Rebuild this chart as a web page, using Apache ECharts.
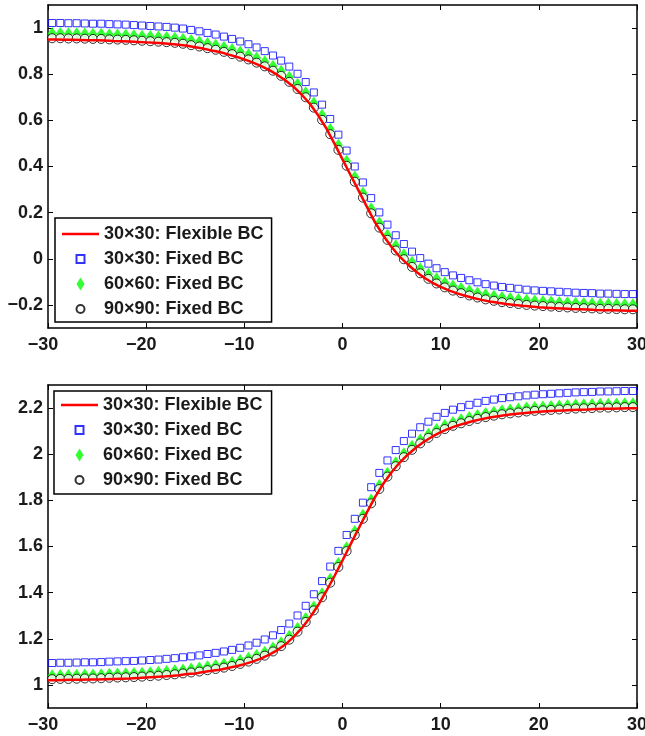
<!DOCTYPE html>
<html><head><meta charset="utf-8">
<script src="https://cdn.jsdelivr.net/npm/echarts@6/dist/echarts.min.js"></script>
<style>html,body{margin:0;padding:0;background:#fff}#c{width:645px;height:736px}</style>
</head><body><div id="c"></div>
<script>
// x positions of the continuous (flexible BC) curve
const xLine = [-30, -29.17, -28.33, -27.5, -26.67, -25.83, -25, -24.17, -23.33, -22.5, -21.67, -20.83, -20, -19.17, -18.33, -17.5, -16.67, -15.83, -15, -14.17, -13.33, -12.5, -11.67, -10.83, -10, -9.17, -8.33, -7.5, -6.67, -5.83, -5, -4.17, -3.33, -2.5, -1.67, -0.83, 0, 0.83, 1.67, 2.5, 3.33, 4.17, 5, 5.83, 6.67, 7.5, 8.33, 9.17, 10, 10.83, 11.67, 12.5, 13.33, 14.17, 15, 15.83, 16.67, 17.5, 18.33, 19.17, 20, 20.83, 21.67, 22.5, 23.33, 24.17, 25, 25.83, 26.67, 27.5, 28.33, 29.17, 30];
// x positions of the markers (fixed BC runs)
const xMark = [-29.58, -28.75, -27.92, -27.08, -26.25, -25.42, -24.58, -23.75, -22.92, -22.08, -21.25, -20.42, -19.58, -18.75, -17.92, -17.08, -16.25, -15.42, -14.58, -13.75, -12.92, -12.08, -11.25, -10.42, -9.58, -8.75, -7.92, -7.08, -6.25, -5.42, -4.58, -3.75, -2.92, -2.08, -1.25, -0.42, 0.42, 1.25, 2.08, 2.92, 3.75, 4.58, 5.42, 6.25, 7.08, 7.92, 8.75, 9.58, 10.42, 11.25, 12.08, 12.92, 13.75, 14.58, 15.42, 16.25, 17.08, 17.92, 18.75, 19.58, 20.42, 21.25, 22.08, 22.92, 23.75, 24.58, 25.42, 26.25, 27.08, 27.92, 28.75, 29.58];

// Top panel
const topFlex30 = [0.950, 0.950, 0.949, 0.949, 0.948, 0.947, 0.947, 0.946, 0.944, 0.943,
0.942, 0.940, 0.938, 0.936, 0.934, 0.931, 0.928, 0.923, 0.917, 0.911,
0.903, 0.896, 0.886, 0.876, 0.864, 0.851, 0.836, 0.819, 0.798, 0.774,
0.746, 0.712, 0.672, 0.623, 0.567, 0.500, 0.431, 0.362, 0.293, 0.224,
0.157, 0.100, 0.051, 0.009, -0.025, -0.056, -0.082, -0.104, -0.122, -0.137,
-0.150, -0.160, -0.170, -0.178, -0.185, -0.191, -0.196, -0.200, -0.204, -0.207,
-0.210, -0.212, -0.214, -0.216, -0.218, -0.219, -0.220, -0.222, -0.223, -0.223,
-0.224, -0.225, -0.225];
const topFixed30 = [1.022, 1.022, 1.021, 1.021, 1.020, 1.019, 1.019, 1.017, 1.016, 1.015,
1.013, 1.011, 1.009, 1.007, 1.005, 1.002, 0.998, 0.992, 0.986, 0.979,
0.972, 0.963, 0.953, 0.942, 0.930, 0.916, 0.900, 0.881, 0.859, 0.833,
0.802, 0.766, 0.721, 0.668, 0.606, 0.538, 0.469, 0.400, 0.331, 0.263,
0.201, 0.148, 0.102, 0.064, 0.031, 0.003, -0.021, -0.041, -0.058, -0.072,
-0.083, -0.093, -0.102, -0.110, -0.116, -0.122, -0.126, -0.130, -0.134, -0.137,
-0.139, -0.141, -0.143, -0.145, -0.147, -0.148, -0.149, -0.151, -0.151, -0.152,
-0.153, -0.153];
const topFixed60 = [0.976, 0.976, 0.975, 0.975, 0.974, 0.973, 0.973, 0.971, 0.970, 0.969,
0.967, 0.965, 0.963, 0.961, 0.959, 0.956, 0.952, 0.946, 0.940, 0.933,
0.926, 0.917, 0.907, 0.896, 0.884, 0.870, 0.854, 0.835, 0.813, 0.787,
0.756, 0.720, 0.675, 0.622, 0.560, 0.492, 0.423, 0.354, 0.285, 0.217,
0.155, 0.102, 0.056, 0.018, -0.015, -0.043, -0.067, -0.087, -0.104, -0.118,
-0.129, -0.139, -0.148, -0.156, -0.162, -0.168, -0.172, -0.176, -0.180, -0.183,
-0.185, -0.187, -0.189, -0.191, -0.193, -0.194, -0.195, -0.197, -0.197, -0.198,
-0.199, -0.199];
const topFixed90 = [0.956, 0.956, 0.955, 0.955, 0.954, 0.953, 0.953, 0.951, 0.950, 0.949,
0.947, 0.945, 0.943, 0.941, 0.939, 0.936, 0.932, 0.926, 0.920, 0.913,
0.906, 0.897, 0.887, 0.876, 0.864, 0.850, 0.834, 0.815, 0.793, 0.767,
0.736, 0.700, 0.655, 0.602, 0.540, 0.472, 0.403, 0.334, 0.265, 0.197,
0.135, 0.082, 0.036, -0.002, -0.035, -0.063, -0.087, -0.107, -0.124, -0.138,
-0.149, -0.159, -0.168, -0.176, -0.182, -0.188, -0.192, -0.196, -0.200, -0.203,
-0.205, -0.207, -0.209, -0.211, -0.213, -0.214, -0.215, -0.217, -0.217, -0.218,
-0.219, -0.219];

// Bottom panel
const botFlex30 = [1.020, 1.020, 1.021, 1.022, 1.022, 1.023, 1.023, 1.025, 1.026, 1.027,
1.028, 1.030, 1.032, 1.034, 1.036, 1.039, 1.042, 1.047, 1.050, 1.056,
1.061, 1.066, 1.073, 1.081, 1.090, 1.101, 1.114, 1.130, 1.150, 1.175,
1.207, 1.245, 1.291, 1.344, 1.405, 1.471, 1.540, 1.610, 1.680, 1.749,
1.815, 1.873, 1.922, 1.964, 1.999, 2.029, 2.055, 2.077, 2.096, 2.111,
2.124, 2.134, 2.144, 2.152, 2.159, 2.165, 2.170, 2.174, 2.178, 2.181,
2.184, 2.186, 2.188, 2.190, 2.192, 2.193, 2.194, 2.196, 2.197, 2.197,
2.198, 2.199, 2.199];
const botFixed30 = [1.095, 1.096, 1.096, 1.097, 1.098, 1.098, 1.099, 1.101, 1.102, 1.103,
1.104, 1.106, 1.108, 1.110, 1.113, 1.116, 1.120, 1.124, 1.128, 1.134,
1.139, 1.145, 1.152, 1.161, 1.171, 1.183, 1.197, 1.215, 1.238, 1.266,
1.301, 1.343, 1.393, 1.450, 1.513, 1.581, 1.650, 1.720, 1.790, 1.857,
1.919, 1.973, 2.018, 2.057, 2.089, 2.117, 2.141, 2.162, 2.179, 2.193,
2.204, 2.214, 2.223, 2.231, 2.237, 2.243, 2.247, 2.251, 2.255, 2.258,
2.260, 2.262, 2.264, 2.266, 2.268, 2.269, 2.270, 2.272, 2.272, 2.273,
2.274, 2.274];
const botFixed60 = [1.040, 1.041, 1.041, 1.042, 1.043, 1.043, 1.044, 1.046, 1.047, 1.048,
1.049, 1.051, 1.053, 1.055, 1.058, 1.061, 1.065, 1.069, 1.073, 1.079,
1.084, 1.090, 1.097, 1.106, 1.116, 1.128, 1.142, 1.160, 1.183, 1.211,
1.246, 1.288, 1.338, 1.395, 1.458, 1.526, 1.595, 1.665, 1.735, 1.802,
1.864, 1.918, 1.963, 2.002, 2.034, 2.062, 2.086, 2.107, 2.124, 2.138,
2.149, 2.159, 2.168, 2.176, 2.182, 2.188, 2.192, 2.196, 2.200, 2.203,
2.205, 2.207, 2.209, 2.211, 2.213, 2.214, 2.215, 2.217, 2.217, 2.218,
2.219, 2.219];
const botFixed90 = [1.025, 1.026, 1.026, 1.027, 1.028, 1.028, 1.029, 1.031, 1.032, 1.033,
1.034, 1.036, 1.038, 1.040, 1.043, 1.046, 1.050, 1.054, 1.058, 1.064,
1.069, 1.075, 1.082, 1.091, 1.101, 1.113, 1.127, 1.145, 1.168, 1.196,
1.231, 1.273, 1.323, 1.380, 1.443, 1.511, 1.580, 1.650, 1.720, 1.787,
1.849, 1.903, 1.948, 1.987, 2.019, 2.047, 2.071, 2.092, 2.109, 2.123,
2.134, 2.144, 2.153, 2.161, 2.167, 2.173, 2.177, 2.181, 2.185, 2.188,
2.190, 2.192, 2.194, 2.196, 2.198, 2.199, 2.200, 2.202, 2.202, 2.203,
2.204, 2.204];

const xTicks = [-30, -20, -10, 0, 10, 20, 30];
const topYTicks = [-0.2, 0, 0.2, 0.4, 0.6, 0.8, 1];
const botYTicks = [1, 1.2, 1.4, 1.6, 1.8, 2, 2.2];
const names = ['30\u00d730: Flexible BC', '30\u00d730: Fixed BC', '60\u00d760: Fixed BC', '90\u00d790: Fixed BC'];

const FONT = '"Liberation Sans", Arial, Helvetica, sans-serif';
const TXT = '#1a1a1a';
const FS = 18;
const fmt = v => String(Math.round(v * 10) / 10).replace('-', '\u2212');
// x labels: keep the digits centred on the tick, minus sign hanging left
const fmtX = v => v < 0 ? fmt(v) + '{p|}' : fmt(v);

function pairs(xs, arr) { return xs.map((x, i) => [x, arr[i]]); }

const lineAx = { show: true, onZero: false, lineStyle: { color: '#000', width: 1.5 } };
const tickAx = { show: true, inside: true, length: 5, lineStyle: { color: '#000', width: 1 } };
const lblStyle = { fontSize: FS, fontWeight: 'bold', color: TXT, fontFamily: FONT };

function xAxes(gi) {
  return [
    { type: 'value', gridIndex: gi, position: 'bottom', min: -30, max: 30, interval: 10,
      axisLine: lineAx, axisTick: tickAx, splitLine: { show: false },
      axisLabel: Object.assign({ margin: 8, formatter: fmtX, customValues: xTicks,
        rich: { p: { width: 10 } } }, lblStyle) },
    { type: 'value', gridIndex: gi, position: 'top', min: -30, max: 30, interval: 10,
      axisLine: lineAx, axisTick: tickAx, splitLine: { show: false }, axisLabel: { show: false } }
  ];
}
function yAxes(gi, mn, mx, ticks) {
  return [
    { type: 'value', gridIndex: gi, position: 'left', min: mn, max: mx,
      axisLine: lineAx, axisTick: Object.assign({ customValues: ticks }, tickAx), splitLine: { show: false },
      axisLabel: Object.assign({ margin: 5, formatter: fmt, customValues: ticks }, lblStyle) },
    { type: 'value', gridIndex: gi, position: 'right', min: mn, max: mx,
      axisLine: lineAx, axisTick: Object.assign({ customValues: ticks }, tickAx), splitLine: { show: false },
      axisLabel: { show: false } }
  ];
}

function panelSeries(ax, flex, f30, f60, f90) {
  return [
    { name: names[1], type: 'scatter', xAxisIndex: ax, yAxisIndex: ax, data: pairs(xMark, f30), z: 2,
      symbol: 'rect', symbolSize: 7,
      itemStyle: { color: 'rgba(255,255,255,0)', borderColor: '#0000ff', borderWidth: 1 } },
    { name: names[2], type: 'scatter', xAxisIndex: ax, yAxisIndex: ax, data: pairs(xMark, f60), z: 3,
      symbol: 'diamond', symbolSize: [9, 13],
      itemStyle: { color: '#00ff00' } },
    { name: names[3], type: 'scatter', xAxisIndex: ax, yAxisIndex: ax, data: pairs(xMark, f90), z: 4,
      symbol: 'circle', symbolSize: 9,
      itemStyle: { color: '#ffffff', borderColor: '#000000', borderWidth: 1 } },
    { name: names[0], type: 'line', xAxisIndex: ax, yAxisIndex: ax, data: pairs(xLine, flex), z: 5,
      symbol: 'none', showSymbol: false, color: '#ff0000', lineStyle: { color: '#ff0000', width: 2.5 } }
  ];
}

const lnIcon = 'path://M0,0M37,13M0,5.2L37,5.2L37,7.8L0,7.8Z';
const sqIcon = 'path://M0,0M37,13M14.5,2.5L22.5,2.5L22.5,10.5L14.5,10.5Z';
const diIcon = 'path://M0,0M37,13M18.5,0L22.5,6.5L18.5,13L14.5,6.5Z';
const ciIcon = 'path://M0,0M37,13M14.5,6.5A4,4 0 1,1 22.5,6.5A4,4 0 1,1 14.5,6.5Z';

function mkLegend(left, top, pad) {
  return {
    orient: 'vertical', left: left, top: top, z: 10,
    padding: pad, itemWidth: 37, itemHeight: 14, itemGap: 7,
    backgroundColor: '#ffffff', borderColor: '#000000', borderWidth: 1.5, borderRadius: 0,
    selectedMode: false,
    textStyle: { fontSize: FS, fontWeight: 'bold', color: TXT, fontFamily: FONT },
    data: [
      { name: names[0], icon: lnIcon, itemStyle: { color: '#ff0000', borderWidth: 0 } },
      { name: names[1], icon: sqIcon },
      { name: names[2], icon: diIcon },
      { name: names[3], icon: ciIcon }
    ]
  };
}

const chart = echarts.init(document.getElementById('c'), null, { renderer: 'canvas' });
chart.setOption({
  animation: false,
  backgroundColor: '#ffffff',
  grid: [
    { left: 48, top: 5, width: 589, height: 323, containLabel: false, outerBoundsMode: 'none' },
    { left: 48, top: 385, width: 589, height: 323, containLabel: false, outerBoundsMode: 'none' }
  ],
  xAxis: [...xAxes(0), ...xAxes(1)],
  yAxis: [...yAxes(0, -0.3, 1.1, topYTicks), ...yAxes(1, 0.9, 2.3, botYTicks)],
  legend: [mkLegend(55, 218, [7, 8, 4, 6]), mkLegend(54, 391, [5, 9, 5, 6])],
  series: [
    ...panelSeries(0, topFlex30, topFixed30, topFixed60, topFixed90),
    ...panelSeries(2, botFlex30, botFixed30, botFixed60, botFixed90)
  ]
});
</script></body></html>
